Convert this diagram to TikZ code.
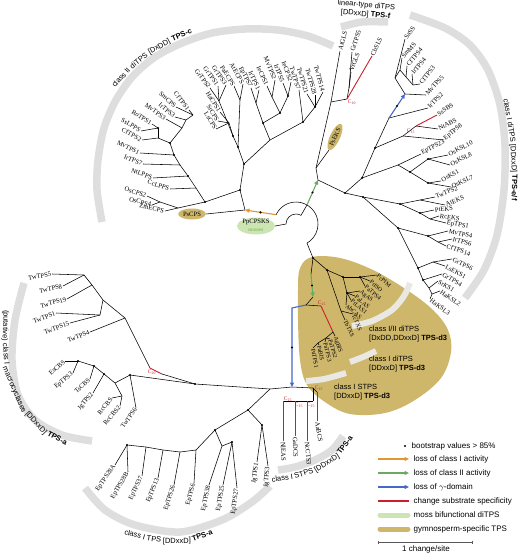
\documentclass[tikz,border=0pt]{standalone}
\usepackage{fontspec}
\setmainfont{Liberation Serif}
\setsansfont{Liberation Sans}
\usetikzlibrary{arrows.meta, shapes.geometric, decorations.markings, positioning}
\definecolor{gymno}{RGB}{206,183,107}
\definecolor{moss}{RGB}{204,229,178}
\definecolor{mosstext}{RGB}{118,170,88}
\definecolor{bandgray}{RGB}{222,222,222}
\definecolor{sepgray}{RGB}{234,232,226}
\definecolor{lossI}{RGB}{226,150,50}
\definecolor{lossII}{RGB}{105,170,95}
\definecolor{lossG}{RGB}{70,105,200}
\definecolor{subst}{RGB}{200,30,45}
\newcommand{\bandfont}{\sffamily\fontsize{7.5}{9}\selectfont}
\tikzset{
    leaf/.style={font=\fontsize{6.6}{7}\selectfont, inner sep=0.8pt},
    lfR/.style={leaf, anchor=west},
    lfL/.style={leaf, anchor=east},
    gleaf/.style={lfR, font=\fontsize{6}{6.5}\selectfont, inner sep=0.5pt},
    br/.style={line width=0.55pt},
    subbr/.style={draw=subst, line width=0.9pt},
    bs/.style={circle, fill=black, inner sep=0pt, minimum size=2.4pt},
    cladeband/.style={draw=bandgray, line width=7.5pt},
    sepband/.style={draw=sepgray, line width=6pt},
    bandword/.style={font=\bandfont, anchor=base, inner sep=0pt, transform shape},
    cladetext/.style={font=\bandfont, align=left, inner sep=0pt},
    event/.style={-{Triangle[length=4.5pt,width=4pt]}, line width=1.1pt},
    cnum/.style={text=subst, font=\fontsize{5.5}{6}\selectfont, inner sep=0.2pt},
    legtext/.style={font=\sffamily\fontsize{8}{9}\selectfont, anchor=west, inner sep=0.5pt}
}

\begin{document}
\begin{tikzpicture}[x=1pt, y=-1pt]
\useasboundingbox (0,0) rectangle (520,554);

% gymnosperm TPS-d3 area
\fill[gymno] plot[smooth cycle, tension=0.6] coordinates {(300,268) (312,257) (340,258) (373,270) (407,290) (433,310) (448,330) (451,352) (441,378) (415,400) (385,413) (350,414) (325,402) (307,385) (300,360) (298,320) (298,290)};
\draw[sepband] plot[smooth] coordinates {(352,326) (372,321) (392,310) (404,296) (410,283)};
\draw[sepband] plot[smooth] coordinates {(350,362) (363,357) (376,351)};
\draw[sepband] plot[smooth] coordinates {(306,381) (324,379) (346,373)};

% clade bands
\draw[cladeband] plot[smooth] coordinates {(102,222) (97,190) (98,160) (104,128) (116,100) (133,76) (155,57) (182,43) (212,33) (245,29) (278,30) (308,36) (333,46)};
\draw[cladeband] plot[smooth] coordinates {(341,27) (362,22) (388,22)};
\draw[cladeband] plot[smooth] coordinates {(410,15) (445,28) (470,45) (488,70) (500,105) (505,145) (504,190) (497,235) (484,270) (465,298)};
\draw[cladeband] plot[smooth] coordinates {(24,283) (15,320) (12,360) (18,395) (35,420) (62,435) (92,441)};
\draw[cladeband] plot[smooth] coordinates {(85,488) (105,510) (135,525) (180,532) (222,520) (252,502) (270,486)};
\draw[cladeband] plot[smooth] coordinates {(278,470) (295,467) (315,460) (332,450) (343,436)};

% clade labels along the bands
\path[decorate, decoration={markings,
    mark=at position 24pt with {\node[bandword] (wc1) {class II};},
    mark=at position 48pt with {\node[bandword] (wc2) {diTPS};},
    mark=at position 72.5pt with {\node[bandword] (wc3) {[DxDD]};},
    mark=at position 97.5pt with {\node[bandword] (wc4) {\textbf{TPS-c}};}}]
    plot[smooth] coordinates {(108,98) (118,85) (134,68) (158,50) (186,36) (216,26) (248,21) (280,22)};
\path[decorate, decoration={markings,
    mark=at position 12pt with {\node[bandword] (we1) {class I};},
    mark=at position 35pt with {\node[bandword] (we2) {diTPS};},
    mark=at position 61.3pt with {\node[bandword] (we3) {[DDxxD]};},
    mark=at position 90.3pt with {\node[bandword] (we4) {\textbf{TPS-e/f}};}}]
    plot[smooth] coordinates {(503,98) (510,140) (512,190) (507,235) (497,265) (481,295)};
\path[decorate, decoration={markings,
    mark=at position 15.7pt with {\node[bandword] (wm1) {(putative)};},
    mark=at position 44.2pt with {\node[bandword] (wm2) {class I};},
    mark=at position 81.8pt with {\node[bandword] (wm3) {macrocyclases};},
    mark=at position 122.7pt with {\node[bandword] (wm4) {[DDxxD]};},
    mark=at position 149.4pt with {\node[bandword] (wm5) {\textbf{TPS-a}};}}]
    plot[smooth] coordinates {(4,310) (3,340) (6,372) (18,402) (38,428) (66,445) (96,452) (126,455) (160,456)};
\path[decorate, decoration={markings,
    mark=at position 10.7pt with {\node[bandword] (wt1) {class I};},
    mark=at position 30.7pt with {\node[bandword] (wt2) {TPS};},
    mark=at position 54pt with {\node[bandword] (wt3) {[DDxxD]};},
    mark=at position 80.8pt with {\node[bandword] (wt4) {\textbf{TPS-a}};}}]
    plot[smooth] coordinates {(124,534) (150,541) (180,543) (205,537) (230,524) (250,510) (265,497)};
\path[decorate, decoration={markings,
    mark=at position 10.7pt with {\node[bandword] (ws1) {class I};},
    mark=at position 33.2pt with {\node[bandword] (ws2) {STPS};},
    mark=at position 59.1pt with {\node[bandword] (ws3) {[DDxxD]};},
    mark=at position 85.8pt with {\node[bandword] (ws4) {\textbf{TPS-a}};}}]
    plot[smooth] coordinates {(272,482) (293,479) (315,472) (335,460) (350,442) (358,425) (363,405)};
\node[cladetext, align=center, rotate=-5] (lbF) at (366,10) {linear-type diTPS\\{}[DDxxD] \textbf{TPS-f}};
\node[cladetext, anchor=north west] (lbIII) at (369,326) {class I/II diTPS\\{}[DxDD,DDxxD] \textbf{TPS-d3}};
\node[cladetext, anchor=north west] (lbI) at (369,356) {class I diTPS\\{}[DDxxD] \textbf{TPS-d3}};
\node[cladetext, anchor=north west] (lbS) at (334,384) {class I STPS\\{}[DDxxD] \textbf{TPS-d3}};

% internal nodes
\foreach \n/\x/\y in {T/245/210, Tc/240/190, cA/205/202, cOs/178/208, cOs1/160/202, cB/196/188, cC/188/176, cD/180/165, cE/174/155, cF/170/143, cG/158/138, cG2/158/128, cH/182/128, cI/186/120, cJ/193/115,
    tA/244/164, tC/238/147, tB/233/136, tS/229/123, tGr/219/101, tP/240/100, tM/270/140, tL/263/123, tE/256/103, tI/280/113, tI1/272/97, tI2/288/96, tT/303/122, tT1/315/107,
    fE/318/180, fF/316/168, fR/331/102, f1/347/99, f2/349/88,
    R0/345/193, rU/362/178, rD/375/148, rB/389/118, rK/405/94, rK1/395/78, rK2/400/70, rK3/406/77, rK4/413/85, rEp/403/136, rN/416/126, rF/398/165, rO/410/172, rO1/428/159, rO2/428/183,
    rL/363/197, rA/400/204, rA1/420/200, rP/420/213, rP1/430/219, rLo/398/228, rM/428/236, rM1/438/242, rG/418/268, rG1/433/262, rG2/423/280, rG3/429/288, rG4/432/294,
    G/313/258, gGa/311/274, gGb/313/297, gA/327/270, gA1/343/277, gA2/347/293, gA4/360/277, gT/341/311, gB/306/305, gR/321/306, gC2/333/332, gC3/326/338, gC4/318/343,
    aB/292/308, aR/292/387, aS1/313/388, aS2/313/401, aN1/283/401, aN2/295/401, aN3/307/401, aN4/317/392,
    aL/270/389, aJE/248/410, aJ/262/425, aQ/215/430, aQ2/222/446, aQ1/232/442, aP5/196/450, aP4/180/452, aP3/163/450, aP2/146/447, aP1/127/445,
    aM/195/384, aKr/162/374, aK/150/368, aT5/125/318, aT4/103/300, aT3/100/315, aT2/92/285, aT1/84/275,
    aC6/130/375, aC5/115/383, aC4/122/396, aC3/104/374, aC2/94/366, aC1/78/361}
    \coordinate (\n) at (\x,\y);
\coordinate (ringL) at (276.06,214.70);
\coordinate (ringE) at (307,204.95);
\coordinate (ringB) at (307,243.05);
\coordinate (ppIn) at (286,224);

% leaves
\foreach \n/\x/\y/\a in {AtGLS/340/51/75, GrTPS5/352/52/72, VrGLS/351/72/70, CbSLS/372/56/65,
    SaSS/405/39/54, SmMS/402/58/48, CfTPS4/407/66/50, IrTPS4/412/74/50, CfTPS3/420/84/52, MvTPS5/426/95/48, IrTPS2/428/108/45, SsSBS/437/115/34, NtABS/438/129/28, EpTPS8/444/140/40, EpTPS23/421/154/28, OsKSL10/448/155/28, OsKSL8/450/165/28, OsKS1/441/181/30, OsKSL7/451/187/25, TwTPS2/435/197/22, AtEKS/445/205/22, PtEKS/434/210/5, RcEKS/439/216/-8, EpTPS1/446/223/-10, MvTPS4/448/231/-12, IrTPS6/452/239/-15, CfTPS14/446/246/-18, GrTPS6/452/259/-25, LsEKS1/445/266/-28, GrTPS4/442/274/-30, SrKS1/438/281/-32, HaKSL2/440/291/-35, HaKSL3/430/299/-38,
    AaBCS/317/421/-80, NlEAS/283/441/-88, GaDCS/295/436/-88, NcCTS3/307/441/-85}
    {\coordinate (\n) at (\x,\y); \node[lfR, rotate=\a] (lf\n) at (\n) {\n};}
\foreach \n/\x/\y/\a in {PcPIM/377/275/-40, PtISO/370/281/-40, PaTPS4/365/286/-40, AgAS/360/291/-40, PaLAS/355/296/-40, PtLAS1/351/300/-40, AbCAS/346/305/-40, TcTXS/353/314/-65, TbTXS/345/320/-65,
    AgBIS/335/336/-72, PaTPS2/330/339/-74, PaTPS3/325/342/-76, PaBIS/319/345/-78, PaTPS1/313/348/-80}
    {\coordinate (\n) at (\x,\y); \node[gleaf, rotate=\a] (lf\n) at (\n) {\n};}
\foreach \n/\x/\y/\a in {ZmECPS/165/211/-12, OsCPS4/152/205/-15, OsCPS2/147/196/-18, CcLPPS/170/189/-18, NtLPPS/153/178/-20, IrTPS7/143/164/-22, MvTPS1/140/153/-25, CfTPS2/142/140/-27, SsLPPS/141/131/-30, RoTPS1/152/124/-32, MvTPS3/166/119/-35, IrTPS3/175/117/-40, SmCPS/176/107/-42, CfTPS1/189/110/-52,
    GrTPS2/210/88/-52, GrTPS1/218/86/-54, GrTPS3/226/85/-56, PaECPS/234/86/-58, AtECPS/243/84/-60, EpTPS7/251/88/-62, IrTPS1/259/90/-64, IeCPS1/267/86/-66, MvTPS2/275/80/-68, IrTPS5/283/83/-69, IeCPS2/291/82/-70, TwTPS7/299/90/-72, TwTPS21/307/94/-73, TwTPS28/315/95/-74, TwTPS14/323/92/-75,
    HaCPS1/220/112/-58, SrCPS/218/121/-58, LsCPS/216/129/-58,
    TwTPS5/52/274/10, TwTPS8/63/286/12, TwTPS19/67/299/15, TwTPS1/56/313/20, TwTPS15/70/323/20, TwTPS4/90/332/22,
    EsCBS/65/361/40, EpTPS3/73/373/40, TsCBS/90/379/42, JgTPS2/93/393/50, RcCBS/112/398/50, RcCBS2/120/406/50, TwTPS6/136/408/55,
    EpTPS28A/115/465/55, EpTPS28B/128/472/60, EpTPS37/142/476/65, EpTPS13/158/478/68, EpTPS26/174/485/72, EpTPS6/194/483/75, EpTPS38/209/485/78, EpTPS25/223/485/80, EpTPS27/237/488/82, JgTPS1/257/462/82, JgTPS3/268/466/85}
    {\coordinate (\n) at (\x,\y); \node[lfL, rotate=\a] (lf\n) at (\n) {\n};}

% highlighted leaves
\node[ellipse, fill=gymno, minimum width=27pt, minimum height=11pt, leaf] (PsCPS) at (192,214) {PsCPS};
\node[ellipse, fill=gymno, minimum width=27pt, minimum height=10pt, leaf, rotate=65] (PsEKS) at (335,137) {PsEKS};
\node[ellipse, fill=moss, minimum width=38pt, minimum height=17pt, inner sep=0pt] (PpCPSKS) at (256,226) {};
\node[leaf] (lfPp) at (256,222.5) {PpCPSKS};
\node[leaf, text=mosstext, font=\fontsize{5.2}{6}\selectfont] (lfmoss) at (256,230) {mosses};

% branches
\draw[br] (ringL) arc[start angle=205, end angle=420, radius=22];
\draw[br] (ppIn) arc[start angle=180, end angle=300, radius=10] -- (ringE);
\draw[br] (PpCPSKS.east) -- (ppIn);
\draw[br] (T) -- (PsCPS.east);
\draw[br] (fF) -- (PsEKS.west);
\foreach \p/\c in {T/Tc, Tc/cA, Tc/tA,
    cA/cOs, cA/cB, cOs/ZmECPS, cOs/cOs1, cOs1/OsCPS4, cOs1/OsCPS2, cB/CcLPPS, cB/cC, cC/NtLPPS, cC/cD, cD/IrTPS7, cD/cE, cE/MvTPS1, cE/cF, cF/cG, cF/cH, cG/CfTPS2, cG/cG2, cG2/SsLPPS, cG2/RoTPS1, cH/MvTPS3, cH/cI, cI/IrTPS3, cI/cJ, cJ/SmCPS, cJ/CfTPS1,
    tA/tC, tA/tM, tC/tB, tC/tP, tB/tS, tB/tGr, tS/HaCPS1, tS/SrCPS, tS/LsCPS, tGr/GrTPS2, tGr/GrTPS1, tGr/GrTPS3, tP/PaECPS, tP/AtECPS, tM/tL, tM/tT, tL/tE, tL/tI, tE/EpTPS7, tE/IrTPS1, tI/tI1, tI/tI2, tI1/IeCPS1, tI1/MvTPS2, tI2/IrTPS5, tI2/IeCPS2, tT/TwTPS7, tT/tT1, tT1/TwTPS21, tT1/TwTPS28, tT1/TwTPS14,
    fE/fF, fE/R0, fF/fR, fR/AtGLS, fR/f1, f1/f2, f2/GrTPS5, f2/VrGLS,
    R0/rU, R0/rL, rU/rD, rU/rF, rD/rB, rD/rEp, rB/IrTPS2, rK/rK1, rK/MvTPS5, rK1/SaSS, rK1/rK2, rK2/SmMS, rK2/rK3, rK3/CfTPS4, rK3/rK4, rK4/IrTPS4, rK4/CfTPS3, rEp/rN, rEp/EpTPS8, rN/NtABS, rF/EpTPS23, rF/rO, rO/rO1, rO/rO2, rO1/OsKSL10, rO1/OsKSL8, rO2/OsKS1, rO2/OsKSL7,
    rL/rA, rL/rLo, rA/rA1, rA/rP, rA1/TwTPS2, rA1/AtEKS, rP/PtEKS, rP/rP1, rP1/RcEKS, rP1/EpTPS1, rLo/rM, rLo/rG, rM/MvTPS4, rM/rM1, rM1/IrTPS6, rM1/CfTPS14, rG/rG1, rG/rG2, rG1/GrTPS6, rG1/LsEKS1, rG2/GrTPS4, rG2/rG3, rG3/SrKS1, rG3/rG4, rG4/HaKSL2, rG4/HaKSL3,
    ringB/G, G/gA, G/gGa, gGb/gB, gA/gA1, gA/gT, gA1/gA2, gA1/gA4, gA2/AgAS, gA2/PaLAS, gA2/PtLAS1, gA2/AbCAS, gA4/PcPIM, gA4/PtISO, gA4/PaTPS4, gT/TcTXS, gT/TbTXS, gB/gR, gC2/AgBIS, gC2/gC3, gC3/PaTPS2, gC3/PaTPS3, gC3/gC4, gC4/PaBIS, gC4/PaTPS1,
    aR/aL, aR/aS1, aS1/aN4, aS1/aS2, aS2/aN3, aN3/aN2, aN2/aN1,
    aL/aM, aL/aJE, aJE/aJ, aJE/aQ, aJ/JgTPS1, aJ/JgTPS3, aQ/aQ2, aQ/aP5, aQ2/EpTPS38, aQ2/aQ1, aQ1/EpTPS25, aQ1/EpTPS27, aP5/EpTPS6, aP5/aP4, aP4/EpTPS26, aP4/aP3, aP3/EpTPS13, aP3/aP2, aP2/EpTPS37, aP2/aP1, aP1/EpTPS28A, aP1/EpTPS28B,
    aM/aKr, aK/aT5, aM/aC6, aT5/TwTPS4, aT5/aT4, aT4/aT2, aT4/aT3, aT2/aT1, aT2/TwTPS19, aT1/TwTPS5, aT1/TwTPS8, aT3/TwTPS1, aT3/TwTPS15,
    aC6/aC5, aC6/TwTPS6, aC5/aC3, aC5/aC4, aC4/RcCBS, aC4/RcCBS2, aC3/aC2, aC3/JgTPS2, aC2/aC1, aC2/TsCBS, aC1/EsCBS, aC1/EpTPS3}
    \draw[br] (\p) -- (\c);

% substrate changes
\foreach \p/\c in {f1/CbSLS, rN/SsSBS, gR/gC2, aN1/NlEAS, aN2/GaDCS, aN3/NcCTS3, aN4/AaBCS, aKr/aK}
    \draw[subbr] (\p) -- (\c);
\foreach \n/\x/\y/\c in {cn1/352/102/10, cn2/411/131/15, cn3/322/303/15, cn4/288/399/15, cn5/299/405/15, cn6/311/405/15, cn7/319/388/15, cn8/152/372/20}
    \node[cnum] (\n) at (\x,\y) {C\textsubscript{\c}};

% domain/activity losses
\draw[event, lossI] (ringL) -- node[bs] (bsI) {} (T);
\draw[event, lossII] (ringE) -- node[bs] (bsII) {} (fE);
\draw[event, lossII] (gGa) -- node[bs] (bsIIb) {} (gGb);
\draw[event, lossG] (rB) -- node[bs] (bsG) {} (rK);
\draw[event, lossG] (gB) -- (aB) -- node[bs] (bsGb) {} (aR);

% bootstrap support
\foreach \b in {Tc, cA, cC, cE, cF, cG2, tA, tC, tB, tL, tI, tI2, tT, tT1, R0, rU, rD, rO, rO1, rO2, rL, rA, rP, rM, rLo, rG, rG2, G, gA, gA1, gA2, gA4, aJ, aJE, aM, aC1, aC2, aC3, aC6, aP1, aQ1, aQ}
    \node[bs] (bs\b) at (\b) {};

% legend
\node[bs] (lgdot) at (405,446) {};
\node[legtext] (lgboot) at (411,446) {bootstrap values > 85\%};
\foreach \i/\y/\c/\t in {1/459/lossI/loss of class I activity, 2/473/lossII/loss of class II activity, 3/487/lossG/loss of $\gamma$-domain}{
    \coordinate (lga\i) at (378,\y); \coordinate (lgb\i) at (409,\y);
    \draw[event, \c] (lga\i) -- (lgb\i);
    \node[legtext] (lgt\i) at (413,\y) {\t};}
\coordinate (lga4) at (378,501); \coordinate (lgb4) at (409,501);
\draw[subst, line width=1.1pt] (lga4) -- (lgb4);
\node[legtext] (lgt4) at (413,501) {change substrate specificity};
\coordinate (lga5) at (380,515); \coordinate (lgb5) at (408,515);
\draw[moss, line width=5pt, line cap=round] (lga5) -- (lgb5);
\node[legtext] (lgt5) at (413,515) {moss bifunctional diTPS};
\coordinate (lga6) at (380,529); \coordinate (lgb6) at (408,529);
\draw[gymno, line width=5pt, line cap=round] (lga6) -- (lgb6);
\node[legtext] (lgt6) at (413,529) {gymnosperm-specific TPS};
\coordinate (sc1) at (378,542); \coordinate (sc2) at (473,542);
\draw[black!65, line width=0.7pt, {Bar[width=3pt]}-{Bar[width=3pt]}] (sc1) -- (sc2);
\node[legtext, anchor=center] (lgscale) at (426,549) {1 change/site};
\end{tikzpicture}
\end{document}
